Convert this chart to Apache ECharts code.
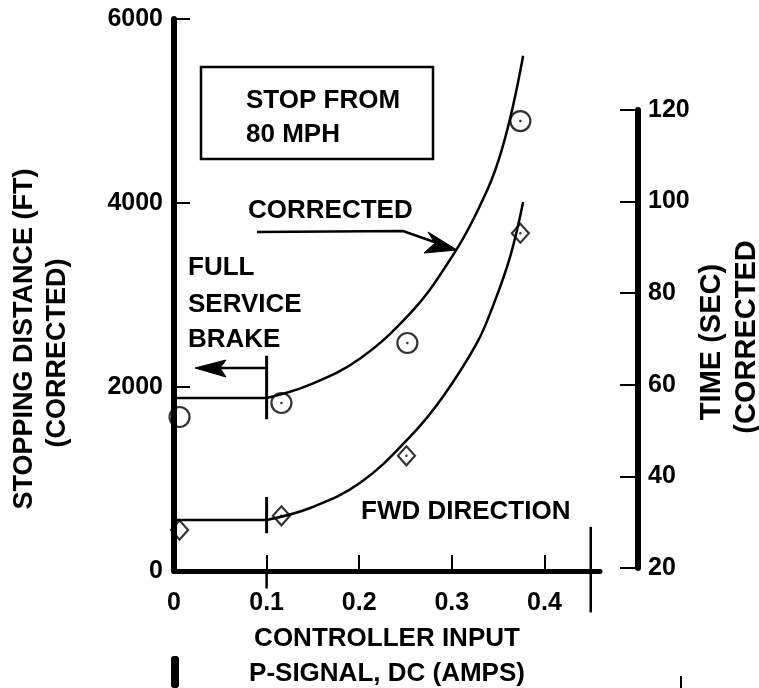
<!DOCTYPE html>
<html>
<head>
<meta charset="utf-8">
<title>Stopping distance vs controller input</title>
<script src="https://cdn.jsdelivr.net/npm/echarts@6/dist/echarts.min.js"></script>
<style>
  html, body { margin: 0; padding: 0; background: #fff; }
  #chart { width: 759px; height: 688px; }
</style>
</head>
<body>
<div id="chart"></div>
<script>
// axis ticks
const inputTicks = [0, 0.1, 0.2, 0.3, 0.4]
const distanceTicks = [0, 2000, 4000, 6000]
const timeTicks = [20, 40, 60, 80, 100, 120]

// measured points: circles = stopping distance (ft), diamonds = time (sec)
const circleInput = [0.006, 0.116, 0.252, 0.374]
const circleDistance = [1674, 1826, 2478, 4891]
const diamondInput = [0.006, 0.116, 0.251, 0.374]
const diamondTime = [28.3, 31.4, 44.5, 93.1]

// faired curves
const distanceCurveInput = [0.100, 0.147, 0.201, 0.255, 0.290, 0.327, 0.354, 0.377]
const distanceCurve = [1880, 2025, 2310, 2800, 3260, 3900, 4580, 5600]
const timeCurveInput = [0.100, 0.147, 0.201, 0.255, 0.290, 0.327, 0.344, 0.363, 0.377]
const timeCurve = [30.5, 33.1, 38.6, 48.7, 57.3, 69.1, 77.0, 88.0, 99.9]

// full service brake level (flat part of each curve)
const fullServiceInput = [0, 0.1]
const fullServiceDistance = [1880, 1880]
const fullServiceTime = [30.5, 30.5]

// marker lines at 0.1 amp and at the end of the scale
const brakeTickDistance = [1650, 2340]
const brakeTickTime = [27.6, 35.5]
const axisTick01 = [-190, 0]
const endTickInput = 0.45
const endTickDistance = [-450, 480]

const FONT = '"Liberation Sans", Arial, Helvetica, sans-serif'
const black = '#000'

const pairs = (xs, ys) => xs.map((x, i) => [x, ys[i]])
const vline = (x, ys) => ys.map(y => [x, y])

const lineSeries = (data, xi, yi, extra) => Object.assign({
  type: 'line',
  xAxisIndex: xi,
  yAxisIndex: yi,
  data: data,
  showSymbol: false,
  symbol: 'none',
  clip: false,
  silent: true,
  lineStyle: { color: black, width: 2.5 }
}, extra || {})

const text = (str, x, y, opts) => Object.assign({
  type: 'text',
  x: x,
  y: y,
  style: Object.assign({
    text: str,
    fill: black,
    font: 'bold 26px ' + FONT,
    textAlign: 'left',
    textVerticalAlign: 'middle'
  }, (opts && opts.style) || {})
}, opts ? { rotation: opts.rotation || 0 } : {})

const chart = echarts.init(document.getElementById('chart'))

chart.setOption({
  backgroundColor: '#fff',
  animation: false,
  grid: [
    { left: 174, right: 159, top: 19, bottom: 117, outerBoundsMode: 'none' },
    { left: 174, right: 159, top: 110, bottom: 120, outerBoundsMode: 'none' }
  ],
  xAxis: [
    {
      type: 'value',
      gridIndex: 0,
      min: 0,
      max: 0.46,
      splitLine: { show: false },
      axisLine: { onZero: false, lineStyle: { color: black, width: 5 } },
      axisTick: {
        customValues: inputTicks.slice(1),
        inside: true,
        length: 16,
        lineStyle: { color: black, width: 2 }
      },
      axisLabel: {
        customValues: inputTicks,
        formatter: v => (v === 0 ? '0' : v.toFixed(1)),
        color: black,
        fontFamily: FONT,
        fontWeight: 'bold',
        fontSize: 25,
        margin: 20
      },
      name: 'CONTROLLER INPUT\nP-SIGNAL, DC (AMPS)',
      nameLocation: 'middle',
      nameGap: 48,
      nameTextStyle: {
        color: black,
        fontFamily: FONT,
        fontWeight: 'bold',
        fontSize: 26,
        lineHeight: 35
      }
    },
    {
      type: 'value',
      gridIndex: 1,
      min: 0,
      max: 0.46,
      show: false
    }
  ],
  yAxis: [
    {
      type: 'value',
      gridIndex: 0,
      min: distanceTicks[0],
      max: distanceTicks[distanceTicks.length - 1],
      interval: distanceTicks[1] - distanceTicks[0],
      splitLine: { show: false },
      axisLine: { show: true, onZero: false, lineStyle: { color: black, width: 6 } },
      axisTick: { inside: true, length: 16, lineStyle: { color: black, width: 2 } },
      axisLabel: {
        formatter: v => String(v),
        color: black,
        fontFamily: FONT,
        fontWeight: 'bold',
        fontSize: 25,
        margin: 11
      }
    },
    {
      type: 'value',
      gridIndex: 1,
      position: 'right',
      offset: 38,
      min: timeTicks[0],
      max: timeTicks[timeTicks.length - 1],
      interval: timeTicks[1] - timeTicks[0],
      splitLine: { show: false },
      axisLine: { show: true, onZero: false, lineStyle: { color: black, width: 6 } },
      axisTick: { inside: true, length: 18, lineStyle: { color: black, width: 2 } },
      axisLabel: {
        color: black,
        fontFamily: FONT,
        fontWeight: 'bold',
        fontSize: 25,
        margin: 10
      }
    }
  ],
  series: [
    lineSeries(pairs(distanceCurveInput, distanceCurve), 0, 0, { smooth: 0.4 }),
    lineSeries(pairs(timeCurveInput, timeCurve), 1, 1, { smooth: 0.4 }),
    lineSeries(pairs(fullServiceInput, fullServiceDistance), 0, 0),
    lineSeries(pairs(fullServiceInput, fullServiceTime), 1, 1),
    lineSeries(vline(fullServiceInput[1], brakeTickDistance), 0, 0, { lineStyle: { color: black, width: 3 } }),
    lineSeries(vline(fullServiceInput[1], brakeTickTime), 1, 1, { lineStyle: { color: black, width: 3 } }),
    lineSeries(vline(fullServiceInput[1], axisTick01), 0, 0, { lineStyle: { color: black, width: 2.5 } }),
    lineSeries(vline(endTickInput, endTickDistance), 0, 0, { lineStyle: { color: black, width: 2.5 } }),
    {
      type: 'scatter',
      xAxisIndex: 0,
      yAxisIndex: 0,
      data: pairs(circleInput, circleDistance),
      symbol: 'circle',
      symbolSize: 20,
      clip: false,
      z: -1,
      itemStyle: { color: 'rgba(0,0,0,0)', borderColor: black, borderWidth: 2.2 }
    },
    {
      type: 'scatter',
      xAxisIndex: 1,
      yAxisIndex: 1,
      data: pairs(diamondInput, diamondTime),
      symbol: 'diamond',
      symbolSize: [17, 19],
      clip: false,
      z: -1,
      itemStyle: { color: 'rgba(0,0,0,0)', borderColor: black, borderWidth: 2.2 }
    },
    {
      type: 'scatter',
      xAxisIndex: 0,
      yAxisIndex: 0,
      data: pairs(circleInput.slice(1), circleDistance.slice(1)),
      symbolSize: 2.5,
      itemStyle: { color: black }
    },
    {
      type: 'scatter',
      xAxisIndex: 1,
      yAxisIndex: 1,
      data: pairs(diamondInput.slice(1), diamondTime.slice(1)),
      symbolSize: 2.5,
      itemStyle: { color: black }
    }
  ],
  graphic: [
    // axis titles
    text('STOPPING DISTANCE (FT)', 25, 339, { rotation: Math.PI / 2, style: { textAlign: 'center', font: 'bold 27px ' + FONT } }),
    text('(CORRECTED)', 58, 353, { rotation: Math.PI / 2, style: { textAlign: 'center', font: 'bold 27px ' + FONT } }),
    text('TIME (SEC)', 712, 342, { rotation: Math.PI / 2, style: { textAlign: 'center', font: 'bold 29px ' + FONT } }),
    text('(CORRECTED', 747, 337, { rotation: Math.PI / 2, style: { textAlign: 'center', font: 'bold 29px ' + FONT } }),
    // boxed note
    {
      type: 'rect',
      shape: { x: 201, y: 67, width: 232, height: 92 },
      style: { fill: 'none', stroke: black, lineWidth: 2.5 }
    },
    text('STOP FROM', 246, 101),
    text('80 MPH', 246, 135),
    // corrected label and arrow
    text('CORRECTED', 248, 211),
    {
      type: 'polyline',
      shape: { points: [[257, 232], [403, 231], [440, 244]] },
      style: { fill: null, stroke: black, lineWidth: 2.5 }
    },
    {
      type: 'polygon',
      shape: { points: [[457, 250], [428, 232], [435, 243], [424, 253]] },
      style: { fill: black, stroke: black, lineWidth: 1 }
    },
    // full service brake label and arrow
    text('FULL', 188, 268),
    text('SERVICE', 188, 305),
    text('BRAKE', 188, 340),
    {
      type: 'line',
      shape: { x1: 267, y1: 368, x2: 215, y2: 368 },
      style: { stroke: black, lineWidth: 2.5 }
    },
    {
      type: 'polygon',
      shape: { points: [[195, 368], [226, 360], [220, 368], [226, 377]] },
      style: { fill: black, stroke: black, lineWidth: 1 }
    },
    text('FWD DIRECTION', 361, 512),
    // scan marks at the bottom edge
    {
      type: 'rect',
      shape: { x: 171, y: 656, width: 8, height: 32, r: 3 },
      style: { fill: black }
    },
    {
      type: 'line',
      shape: { x1: 681, y1: 676, x2: 681, y2: 688 },
      style: { stroke: black, lineWidth: 2 }
    }
  ]
})
</script>
</body>
</html>
